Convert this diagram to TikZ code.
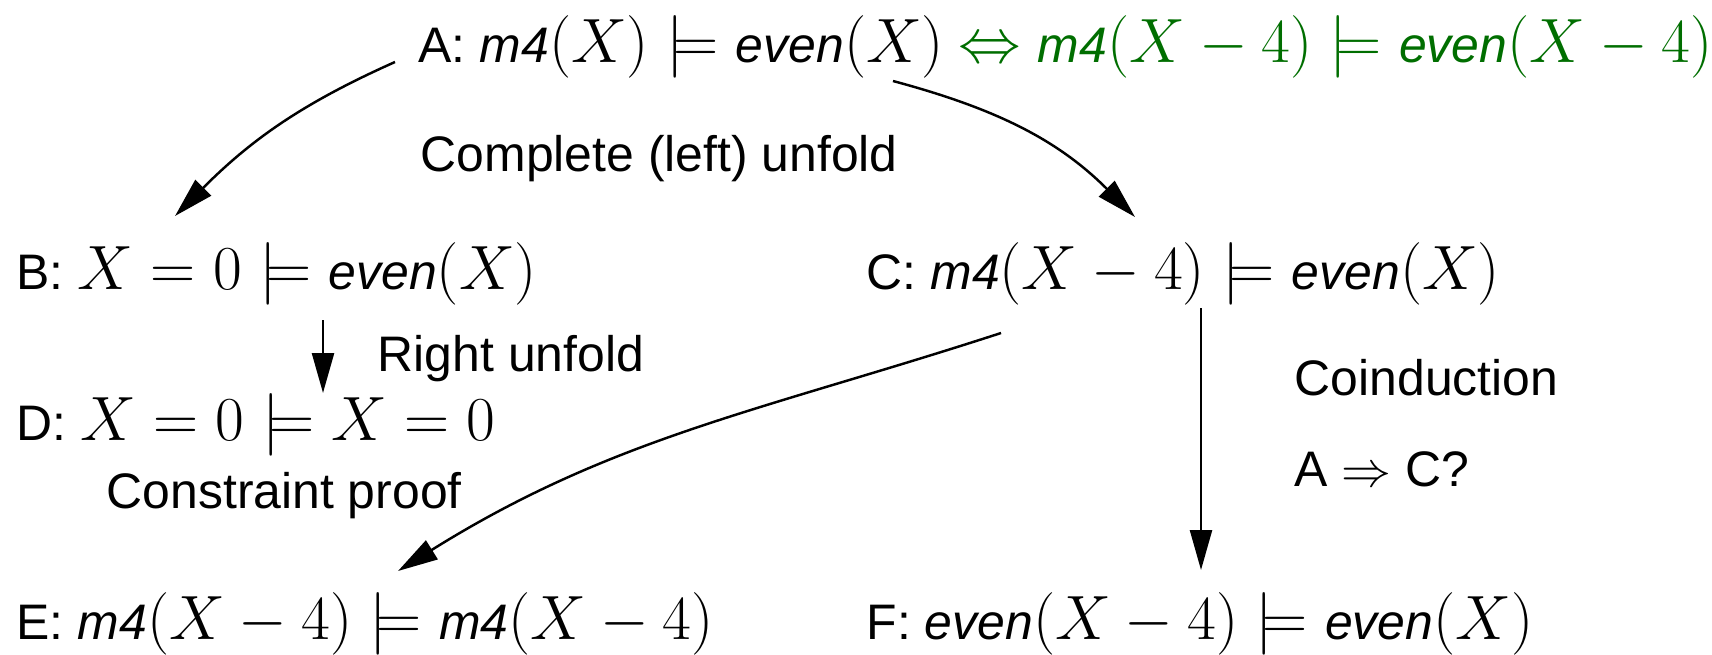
\RequirePackage{fix-cm}
\documentclass[tikz,border=0pt]{standalone}
\usepackage{amsmath,amssymb}
\usepackage[no-math]{fontspec}
\usetikzlibrary{arrows.meta, positioning}
\newfontfamily\helv{Liberation Sans}
\definecolor{prfgreen}{RGB}{0,110,0}
\newcommand{\fn}[1]{\mbox{\fontsize{14.2}{17}\selectfont\itshape #1}}
\newcommand{\fml}[1]{{\fontsize{17.8}{21}\selectfont$#1$}}

\begin{document}
\begin{tikzpicture}[
    >={Triangle[length=4mm, width=2.2mm]},
    every node/.style={font=\helv\fontsize{14.2}{17}\selectfont, inner sep=0pt, anchor=base west},
    flow/.style={->, line width=0.7pt},
  ]

  \useasboundingbox (0,0) rectangle (17.12,6.54);

  % Goals
  \node (A) at (4.18,5.92) {A: \fml{\fn{m4}(X) \models \fn{even}(X)}
    {\color{prfgreen}\fml{\Leftrightarrow \fn{m4}(X-4) \models \fn{even}(X-4)}}};
  \node (B) at (0.16,3.65) {B: \fml{X = 0 \models \fn{even}(X)}};
  \node (C) at (8.66,3.65) {C: \fml{\fn{m4}(X-4) \models \fn{even}(X)}};
  \node (D) at (0.16,2.14) {D: \fml{X = 0 \models X = 0}};
  \node (E) at (0.16,0.15) {E: \fml{\fn{m4}(X-4) \models \fn{m4}(X-4)}};
  \node (F) at (8.66,0.15) {F: \fml{\fn{even}(X-4) \models \fn{even}(X)}};

  % Step labels
  \node (unfoldL) at (4.20,4.83) {Complete (left) unfold};
  \node (unfoldR) at (3.77,2.83) {Right unfold};
  \node (cproof)  at (1.06,1.46) {Constraint proof};
  \node (coind)   at (12.94,2.59) {Coinduction};
  \node (hyp)     at (12.94,1.68) {A $\Rightarrow$ C?};

  % Steps
  \draw[flow] ([xshift=-2.3mm, yshift=0mm]A.base west)
    to[out=204, in=45] ([xshift=15.9mm, yshift=7.3mm]B.base west);
  \draw[flow] ([xshift=47.5mm, yshift=-1.9mm]A.base west)
    to[out=-15, in=135] ([xshift=26.9mm, yshift=7.2mm]C.base west);
  \draw[flow] ([xshift=30.7mm, yshift=-3.1mm]B.base west)
    -- ([xshift=30.7mm, yshift=4.7mm]D.base west);
  \draw[flow] ([xshift=13.5mm, yshift=-4.4mm]C.base west)
    to[out=198, in=32] ([xshift=38.2mm, yshift=6.8mm]E.base west);
  \draw[flow] ([xshift=33.5mm, yshift=-1.9mm]C.base west)
    -- ([xshift=33.5mm, yshift=6.9mm]F.base west);

\end{tikzpicture}
\end{document}
